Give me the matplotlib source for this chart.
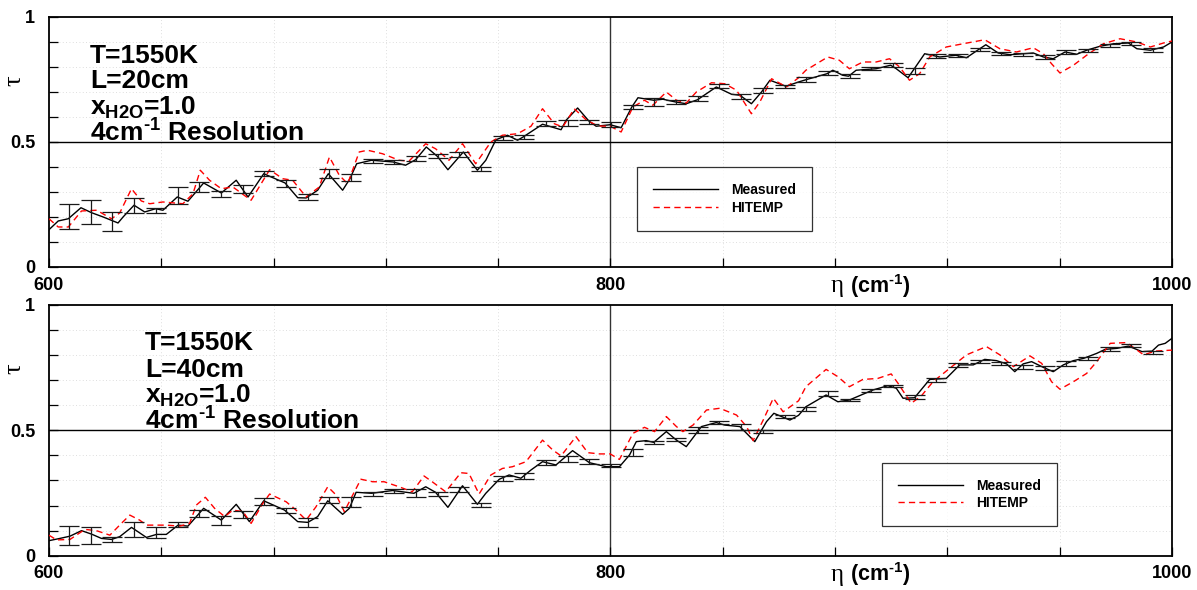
import numpy as np
import matplotlib.pyplot as plt

plt.rcParams['font.family'] = ['Liberation Sans', 'DejaVu Sans']
plt.rcParams['font.weight'] = 'bold'
plt.rcParams['mathtext.fontset'] = 'custom'
plt.rcParams['mathtext.rm'] = 'Liberation Sans:bold'
plt.rcParams['mathtext.it'] = 'Liberation Sans:bold'
plt.rcParams['mathtext.bf'] = 'Liberation Sans:bold'

# ---- L = 20 cm ----
wn_meas_20 = [600.0, 603.3, 606.9, 611.4, 615.2, 619.3, 624.6, 626.4, 630.3, 634.1, 638.0, 640.6,
              645.7, 649.5, 655.1, 661.4, 666.7, 670.9, 676.5, 684.1, 688.6, 691.6, 695.7, 699.5,
              704.6, 707.2, 709.6, 714.9, 722.6, 727.0, 730.6, 734.4, 738.3, 742.1, 747.6, 752.6,
              755.6, 759.2, 763.3, 766.9, 768.9, 775.8, 782.4, 784.2, 788.3, 792.3, 794.9, 799.9,
              803.8, 807.6, 809.8, 815.4, 818.7, 823.2, 827.0, 831.0, 837.7, 843.1, 846.1, 850.2,
              853.8, 856.8, 862.5, 867.0, 869.6, 877.1, 879.2, 882.7, 884.8, 887.5, 894.6, 899.8,
              901.8, 906.0, 911.9, 917.3, 923.0, 926.8, 931.0, 933.7, 938.1, 942.3, 947.0, 950.6,
              954.2, 957.7, 961.9, 966.1, 969.6, 974.4, 979.2, 984.5, 987.5, 992.3, 997.0, 1000.0]
tau_meas_20 = [0.149, 0.184, 0.193, 0.237, 0.217, 0.200, 0.176, 0.200, 0.247, 0.220, 0.233, 0.227,
               0.280, 0.263, 0.336, 0.296, 0.347, 0.280, 0.373, 0.336, 0.277, 0.276, 0.307, 0.373,
               0.307, 0.353, 0.413, 0.427, 0.420, 0.407, 0.429, 0.480, 0.443, 0.389, 0.460, 0.387,
               0.427, 0.509, 0.527, 0.507, 0.520, 0.571, 0.549, 0.587, 0.636, 0.584, 0.563, 0.569,
               0.557, 0.640, 0.677, 0.667, 0.671, 0.660, 0.653, 0.669, 0.720, 0.691, 0.687, 0.653,
               0.700, 0.747, 0.723, 0.740, 0.749, 0.773, 0.787, 0.767, 0.763, 0.787, 0.793, 0.807,
               0.793, 0.757, 0.853, 0.840, 0.847, 0.837, 0.869, 0.889, 0.856, 0.849, 0.853, 0.856,
               0.840, 0.833, 0.860, 0.851, 0.867, 0.883, 0.893, 0.896, 0.873, 0.867, 0.880, 0.900]

wn_hit_20 = [600.0, 603.3, 606.9, 611.6, 617.0, 622.3, 625.2, 629.4, 632.9, 635.9, 640.6, 647.7,
             651.3, 653.9, 657.2, 661.4, 665.5, 668.8, 672.0, 678.6, 683.3, 686.8, 691.6, 696.3,
             699.9, 703.4, 706.4, 710.5, 713.5, 718.8, 724.7, 728.2, 734.2, 737.7, 742.5, 747.3,
             752.0, 757.4, 761.5, 766.9, 771.7, 775.8, 780.0, 783.0, 787.1, 791.3, 795.5, 799.9,
             803.8, 808.0, 812.1, 815.1, 819.9, 823.5, 827.0, 830.6, 836.0, 840.7, 844.9, 850.2,
             853.2, 857.4, 862.7, 867.0, 869.6, 877.4, 881.5, 885.1, 889.9, 894.6, 899.4, 903.0,
             906.5, 910.1, 913.7, 919.6, 925.6, 933.3, 938.7, 944.6, 950.6, 954.2, 957.1, 960.1,
             964.9, 969.6, 975.6, 981.5, 987.5, 992.3, 997.0, 1000.0]
tau_hit_20 = [0.193, 0.160, 0.160, 0.224, 0.227, 0.193, 0.216, 0.313, 0.264, 0.253, 0.260, 0.253,
              0.293, 0.387, 0.347, 0.313, 0.320, 0.293, 0.267, 0.389, 0.353, 0.347, 0.280, 0.320,
              0.440, 0.367, 0.333, 0.460, 0.467, 0.453, 0.427, 0.423, 0.493, 0.473, 0.427, 0.493,
              0.413, 0.500, 0.527, 0.533, 0.563, 0.633, 0.573, 0.560, 0.633, 0.589, 0.564, 0.563,
              0.540, 0.640, 0.667, 0.647, 0.700, 0.667, 0.656, 0.700, 0.737, 0.733, 0.707, 0.613,
              0.660, 0.753, 0.720, 0.757, 0.787, 0.840, 0.827, 0.793, 0.820, 0.820, 0.833, 0.800,
              0.747, 0.773, 0.840, 0.880, 0.893, 0.909, 0.873, 0.860, 0.877, 0.853, 0.813, 0.776,
              0.807, 0.847, 0.893, 0.913, 0.900, 0.880, 0.896, 0.904]

# error bars share the same wavenumbers in both runs
eb_wn = [607.2, 614.9, 622.6, 630.4, 638.1, 645.8, 653.5, 661.2, 669.0, 676.7, 684.4, 692.1,
         699.8, 707.6, 715.3, 723.0, 730.7, 738.4, 746.2, 753.9, 761.6, 769.3, 777.0, 784.8,
         792.5, 800.2, 807.9, 815.6, 823.4, 831.1, 838.8, 846.5, 854.2, 862.0, 869.7, 877.4,
         885.2, 892.9, 900.6, 908.3, 916.0, 923.8, 931.5, 939.2, 946.9, 954.6, 962.4, 970.1,
         977.8, 985.5, 993.2]
eb_tau_20 = [0.200, 0.220, 0.183, 0.244, 0.227, 0.285, 0.320, 0.292, 0.311, 0.373, 0.333, 0.280,
             0.373, 0.356, 0.424, 0.420, 0.433, 0.443, 0.451, 0.391, 0.517, 0.520, 0.573, 0.576,
             0.580, 0.569, 0.640, 0.660, 0.660, 0.673, 0.723, 0.680, 0.704, 0.723, 0.749, 0.776,
             0.763, 0.793, 0.807, 0.783, 0.843, 0.845, 0.869, 0.853, 0.849, 0.840, 0.860, 0.864,
             0.884, 0.893, 0.867]
eb_err_20 = [0.050, 0.049, 0.038, 0.030, 0.010, 0.035, 0.021, 0.012, 0.015, 0.011, 0.013, 0.013,
             0.017, 0.014, 0.008, 0.008, 0.010, 0.008, 0.010, 0.008, 0.008, 0.008, 0.009, 0.011,
             0.008, 0.009, 0.008, 0.015, 0.008, 0.010, 0.008, 0.010, 0.010, 0.006, 0.010, 0.008,
             0.009, 0.006, 0.008, 0.012, 0.008, 0.006, 0.007, 0.006, 0.006, 0.008, 0.007, 0.006,
             0.006, 0.007, 0.009]

# ---- L = 40 cm ----
wn_meas_40 = [600.0, 603.9, 607.5, 611.6, 615.2, 618.7, 622.3, 625.2, 629.4, 634.7, 638.3, 641.8,
              646.0, 649.5, 655.1, 661.4, 666.7, 671.4, 676.5, 683.9, 688.6, 692.2, 695.7, 699.3,
              704.6, 707.0, 709.4, 714.9, 722.4, 730.0, 734.2, 737.7, 742.1, 747.3, 752.6, 755.6,
              760.4, 763.9, 768.1, 771.7, 775.8, 780.6, 786.5, 792.5, 798.5, 803.2, 806.8, 809.2,
              812.7, 815.4, 819.9, 823.5, 827.0, 832.4, 837.7, 840.7, 846.1, 851.4, 855.6, 858.2,
              863.9, 867.0, 869.6, 876.8, 881.0, 885.1, 893.5, 898.8, 901.8, 904.2, 908.3, 913.7,
              919.6, 924.4, 929.2, 933.3, 937.5, 941.1, 944.0, 947.0, 950.0, 954.2, 957.7, 961.3,
              964.9, 968.5, 973.2, 976.2, 980.4, 984.5, 989.3, 992.9, 995.2, 997.6, 1000.0]
tau_meas_40 = [0.060, 0.069, 0.078, 0.100, 0.086, 0.069, 0.065, 0.076, 0.113, 0.073, 0.085, 0.085,
               0.122, 0.118, 0.189, 0.142, 0.205, 0.136, 0.219, 0.182, 0.136, 0.133, 0.156, 0.219,
               0.165, 0.189, 0.253, 0.249, 0.260, 0.249, 0.275, 0.253, 0.193, 0.279, 0.205, 0.249,
               0.305, 0.322, 0.309, 0.342, 0.375, 0.362, 0.419, 0.371, 0.355, 0.355, 0.402, 0.455,
               0.459, 0.452, 0.495, 0.461, 0.435, 0.515, 0.531, 0.521, 0.515, 0.455, 0.535, 0.568,
               0.541, 0.560, 0.594, 0.641, 0.614, 0.621, 0.661, 0.678, 0.668, 0.628, 0.630, 0.703,
               0.707, 0.761, 0.761, 0.783, 0.778, 0.765, 0.734, 0.765, 0.774, 0.751, 0.734, 0.761,
               0.778, 0.787, 0.807, 0.823, 0.827, 0.836, 0.814, 0.816, 0.840, 0.847, 0.867]

wn_hit_40 = [600.0, 602.7, 607.5, 612.8, 616.9, 621.7, 625.8, 628.8, 632.3, 634.7, 641.8, 646.6,
             650.1, 652.5, 655.7, 659.0, 662.6, 665.5, 669.1, 672.0, 676.2, 678.6, 684.5, 688.0,
             691.6, 695.1, 699.3, 702.3, 705.2, 707.6, 711.1, 715.3, 719.4, 724.7, 729.4, 733.6,
             736.5, 741.3, 746.7, 749.6, 753.2, 757.4, 761.5, 765.1, 769.9, 775.8, 779.4, 782.4,
             787.7, 791.9, 796.1, 799.9, 803.2, 808.0, 812.1, 815.7, 819.9, 823.5, 825.8, 829.4,
             834.2, 838.9, 844.9, 848.5, 850.8, 854.4, 858.0, 861.5, 867.0, 869.6, 876.8, 881.0,
             885.1, 889.9, 895.2, 900.0, 902.4, 907.1, 910.7, 914.9, 920.8, 926.8, 933.9, 938.7,
             943.5, 949.4, 953.6, 957.1, 960.1, 964.9, 969.6, 973.2, 978.0, 983.9, 989.9, 994.0,
             1000.0]
tau_hit_40 = [0.082, 0.063, 0.065, 0.105, 0.100, 0.082, 0.129, 0.162, 0.142, 0.122, 0.122, 0.118,
              0.129, 0.202, 0.233, 0.189, 0.156, 0.182, 0.176, 0.129, 0.209, 0.246, 0.215, 0.182,
              0.142, 0.195, 0.275, 0.242, 0.176, 0.229, 0.305, 0.295, 0.295, 0.275, 0.255, 0.318,
              0.295, 0.255, 0.331, 0.328, 0.246, 0.322, 0.348, 0.355, 0.375, 0.461, 0.422, 0.398,
              0.475, 0.411, 0.406, 0.406, 0.384, 0.488, 0.512, 0.495, 0.555, 0.515, 0.495, 0.521,
              0.581, 0.588, 0.561, 0.515, 0.459, 0.541, 0.628, 0.574, 0.618, 0.674, 0.743, 0.714,
              0.674, 0.703, 0.707, 0.725, 0.688, 0.608, 0.637, 0.694, 0.747, 0.801, 0.834, 0.801,
              0.754, 0.797, 0.767, 0.694, 0.664, 0.694, 0.727, 0.774, 0.847, 0.850, 0.801, 0.816,
              0.820]

eb_tau_40 = [0.080, 0.081, 0.066, 0.106, 0.092, 0.125, 0.169, 0.140, 0.166, 0.217, 0.181, 0.132,
             0.223, 0.213, 0.247, 0.258, 0.251, 0.247, 0.266, 0.203, 0.306, 0.316, 0.372, 0.386,
             0.375, 0.359, 0.412, 0.452, 0.464, 0.503, 0.531, 0.513, 0.495, 0.555, 0.586, 0.646,
             0.622, 0.658, 0.677, 0.633, 0.701, 0.759, 0.775, 0.766, 0.753, 0.749, 0.765, 0.785,
             0.824, 0.839, 0.811]
eb_err_40 = [0.037, 0.035, 0.010, 0.030, 0.022, 0.011, 0.013, 0.017, 0.014, 0.015, 0.009, 0.018,
             0.012, 0.020, 0.008, 0.007, 0.015, 0.009, 0.010, 0.008, 0.010, 0.012, 0.010, 0.011,
             0.009, 0.006, 0.013, 0.006, 0.005, 0.012, 0.005, 0.011, 0.007, 0.007, 0.008, 0.009,
             0.005, 0.007, 0.005, 0.009, 0.007, 0.008, 0.005, 0.005, 0.008, 0.008, 0.010, 0.006,
             0.007, 0.005, 0.007]

panels = [
    dict(wm=wn_meas_20, tm=tau_meas_20, wh=wn_hit_20, th=tau_hit_20, et=eb_tau_20, ee=eb_err_20,
         label=('T=1550K', 'L=20cm'), tx=614.6, ty=(0.815, 0.715, 0.608, 0.500), leg=(0.525, 0.144, 0.153, 0.256)),
    dict(wm=wn_meas_40, tm=tau_meas_40, wh=wn_hit_40, th=tau_hit_40, et=eb_tau_40, ee=eb_err_40,
         label=('T=1550K', 'L=40cm'), tx=634.2, ty=(0.819, 0.714, 0.610, 0.503), leg=(0.743, 0.115, 0.153, 0.26)),
]

fig = plt.figure(figsize=(11.97, 5.9), dpi=100)
axes = [fig.add_axes([0.0409, 0.5475, 0.9382, 0.4237]),
        fig.add_axes([0.0409, 0.0581, 0.9382, 0.4250])]

for ax, p in zip(axes, panels):
    ax.set_xlim(600, 1000)
    ax.set_ylim(0, 1)

    # faint dotted grid at every tick
    for gy in np.arange(0.1, 1.0, 0.1):
        ax.axhline(gy, color='#d4d4d4', lw=0.6, ls=(0, (1, 3)), zorder=0)
    for gx in range(640, 1000, 40):
        ax.axvline(gx, color='#d4d4d4', lw=0.6, ls=(0, (1, 3)), zorder=0)
    ax.axhline(0.5, color='black', lw=1.0, zorder=2.5)
    ax.axvline(800, color='#333333', lw=1.0, zorder=1)

    ax.plot(p['wm'], p['tm'], color='black', lw=1.0, label='Measured', zorder=3)
    ax.plot(p['wh'], p['th'], color='red', lw=1.0, dashes=(4.5, 3), label='HITEMP', zorder=3)
    ax.errorbar(eb_wn, p['et'], yerr=p['ee'], fmt='none', ecolor='#1a1a1a',
                elinewidth=0.9, capsize=7.5, capthick=0.9, zorder=4)

    ax.set_xticks(range(600, 1001, 40))
    ax.set_xticklabels(['600' if v == 600 else '800' if v == 800 else '1000' if v == 1000 else ''
                        for v in range(600, 1001, 40)])
    ax.set_yticks(np.round(np.arange(0, 1.01, 0.1), 1))
    ax.set_yticklabels(['0', '', '', '', '', '0.5', '', '', '', '', '1'])
    ax.tick_params(direction='in', length=6.5, width=0.9, labelsize=13, top=False, right=False)
    ax.tick_params(axis='x', pad=7)
    ax.tick_params(axis='y', pad=10)
    for lab in ax.get_xticklabels() + ax.get_yticklabels():
        lab.set_fontweight('bold')
    for s in ax.spines.values():
        s.set_linewidth(1.3)

    ax.text(-0.031, 0.744, 'τ', transform=ax.transAxes, fontsize=19, rotation=90,
            family='Liberation Serif', fontweight='normal', ha='center', va='center')
    ax.text(0.702, -0.078, 'η', transform=ax.transAxes, fontsize=18,
            family='Liberation Serif', fontweight='normal', ha='center', va='center')
    ax.text(0.713, -0.075, '(cm$^{\\text{-1}}$)', transform=ax.transAxes, fontsize=15.5,
            fontweight='bold', ha='left', va='center')

    lines = [p['label'][0], p['label'][1], 'x$_{\\mathrm{H2O}}$=1.0', '4cm$^{\\text{-1}}$ Resolution']
    for txt, yy in zip(lines, p['ty']):
        ax.text(p['tx'], yy, txt, fontsize=19, fontweight='bold', ha='left', va='baseline', zorder=2)

    leg = ax.legend(loc='center', bbox_to_anchor=p['leg'], bbox_transform=ax.transAxes,
                    prop={'weight': 'bold', 'size': 10}, frameon=True, fancybox=False,
                    borderpad=1.15, handlelength=4.7, handletextpad=0.9, labelspacing=0.25,
                    borderaxespad=0)
    leg.get_frame().set_edgecolor('black')
    leg.get_frame().set_linewidth(0.9)
    leg.set_zorder(5)

fig.savefig('out.png', dpi=100)
